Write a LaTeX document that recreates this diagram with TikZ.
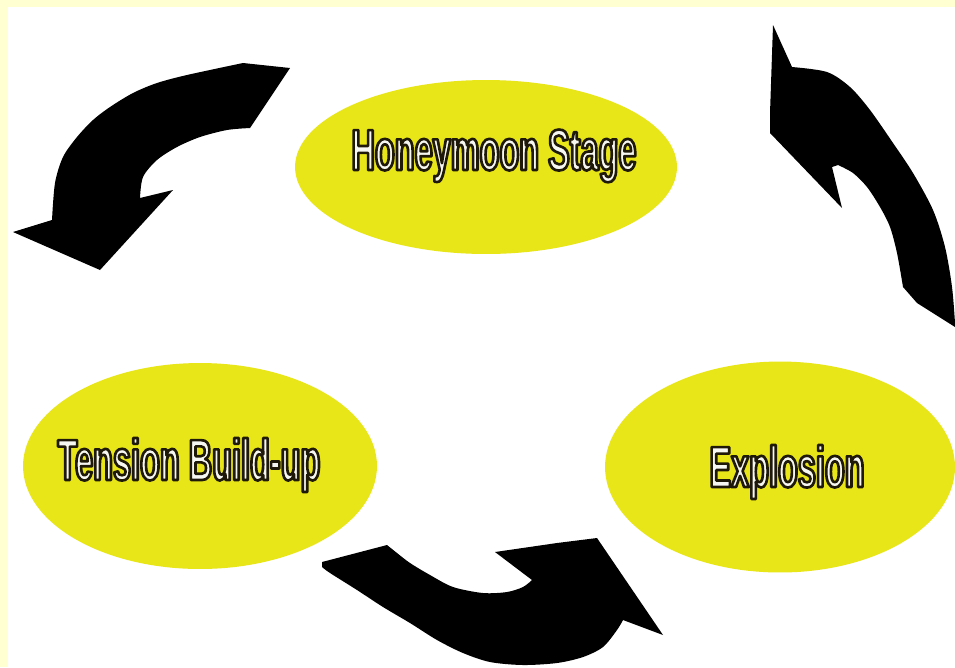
\documentclass[tikz,border=0pt]{standalone}
\usepackage{fontspec}
\usepackage{xcolor}
\usepackage{tikz}
\usetikzlibrary{shapes}

\newfontfamily\stagefont[FakeStretch=0.56]{Liberation Sans}
\definecolor{stageyellow}{RGB}{232,230,24}
\definecolor{cream}{RGB}{255,255,210}

% white letters with a dark rim (fill + stroke text mode)
\newcommand{\rimtext}[1]{%
  \special{pdf:code q 0.97 0.97 0.95 rg 0.12 0.1 0.04 RG 2 Tr 1.5 w 1 j}#1\special{pdf:code Q}}

\begin{document}
\begin{tikzpicture}[
        x=0.02cm, y=-0.02cm,
        stage/.style={ellipse, fill=stageyellow, draw=none, inner sep=0pt},
        stagetext/.style={anchor=base, inner sep=0pt, font=\stagefont\bfseries\fontsize{33}{36}\selectfont},
        blockarrow/.style={fill=black}
    ]
    \useasboundingbox (0,0) rectangle (955,667);
    \fill[cream] (0,0) rectangle (955,667);
    \fill[white] (8,7) rectangle (955,667);

    % Stages
    \node[stage, minimum width=7.64cm, minimum height=3.48cm] (honeymoon) at (486,167) {};
    \node[stage, minimum width=7.08cm, minimum height=4.12cm] (tension) at (200,466) {};
    \node[stage, minimum width=7.00cm, minimum height=4.22cm] (explosion) at (780,467) {};

    \node[stagetext] (honeymoon-text) at (494,170) {\rimtext{Honeymoon Stage}};
    \node[stagetext] (tension-text) at (189,480) {\rimtext{Tension Build-up}};
    \node[stagetext] (explosion-text) at (787,487) {\rimtext{Explosion}};

    % Arrows
    % honeymoon -> tension
    \fill[blockarrow] plot[smooth] coordinates {(243,63) (187,75) (157,83) (133,93) (110,107) (93,120) (77,137) (63,157) (55,183) (52,220)}
        -- (13,232) -- (100,270) -- (173,190) -- (140,198)
        -- plot[smooth] coordinates {(140,198) (143,177) (157,160) (177,147) (200,137) (227,130) (250,128)}
        -- (290,68) -- cycle;

    % tension -> explosion
    \fill[blockarrow] (322,562) -- (387,545)
        -- plot[smooth] coordinates {(387,545) (397,553) (410,563) (430,575) (453,587) (483,593) (507,592) (523,587) (532,580)}
        -- (495,552) -- (557,543) -- (597,538) -- (663,635) -- (623,620)
        -- plot[smooth] coordinates {(623,620) (617,630) (603,647) (583,657) (557,663) (523,665) (490,662) (463,653) (437,640) (410,623) (383,607) (357,590) (330,573) (322,567)}
        -- cycle;

    % explosion -> honeymoon
    \fill[blockarrow] (773,25) -- (792,67)
        -- plot[smooth] coordinates {(792,67) (827,72) (850,87) (870,110) (893,143) (913,173) (933,210) (945,247) (952,287) (955,323)}
        -- (955,327) -- (917,303) -- (903,287)
        -- plot[smooth] coordinates {(903,287) (897,253) (890,227) (880,207) (867,187) (853,173) (838,165)}
        -- (832,167) -- (842,208) -- (770,133) -- (770,113) -- cycle;

\end{tikzpicture}
\end{document}
